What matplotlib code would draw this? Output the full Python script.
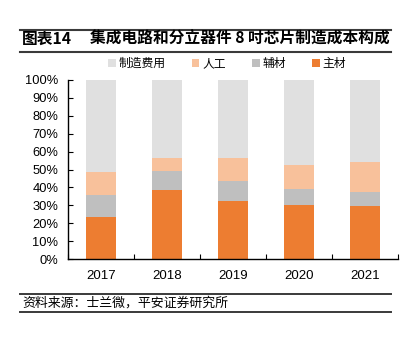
"""Cost structure of 8-inch wafer manufacturing (stacked bars)."""

import numpy as np
import matplotlib
matplotlib.use("Agg")
import matplotlib.pyplot as plt
from matplotlib.lines import Line2D
from matplotlib.patches import Patch

plt.rcParams["font.family"] = ["Liberation Sans", "Noto Sans CJK SC", "DejaVu Sans"]

# data (% of total cost)
years = ["2017", "2018", "2019", "2020", "2021"]
main_material = [23.6, 38.5, 32.4, 30.3, 29.8]   # 主材
aux_material = [12.2, 10.7, 11.3, 8.8, 7.8]      # 辅材
labor = [12.6, 7.4, 12.9, 13.4, 16.4]            # 人工

series_names = ["制造费用", "人工", "辅材", "主材"]
colors = {"制造费用": "#E0E0E0", "人工": "#F8C19B", "辅材": "#BFBFBF", "主材": "#ED7D31"}

main_material = np.array(main_material)
aux_material = np.array(aux_material)
labor = np.array(labor)
overhead = 100 - main_material - aux_material - labor  # 制造费用

W, H = 418, 338
fig = plt.figure(figsize=(W / 100, H / 100), dpi=100)
ax = fig.add_axes([68 / W, 1 - 259 / H, 330 / W, 179 / H])

x = np.arange(len(years))
bw = 0.455
ax.bar(x, main_material, bw, color=colors["主材"], label="主材")
ax.bar(x, aux_material, bw, bottom=main_material, color=colors["辅材"], label="辅材")
ax.bar(x, labor, bw, bottom=main_material + aux_material, color=colors["人工"], label="人工")
ax.bar(x, overhead, bw, bottom=main_material + aux_material + labor,
       color=colors["制造费用"], label="制造费用")

ax.set_xlim(-0.5, len(years) - 0.5)
ax.set_ylim(0, 100)
ax.set_yticks(np.arange(0, 101, 10))
ax.set_yticklabels([f"{v}%" for v in range(0, 101, 10)])
ax.set_xticks(x)
ax.set_xticklabels(years)
ax.set_xticks(np.arange(-0.5, len(years), 1), minor=True)

for s in ["top", "right"]:
    ax.spines[s].set_visible(False)
for s in ["left", "bottom"]:
    ax.spines[s].set_linewidth(1.0)
    ax.spines[s].set_color("black")

ax.tick_params(axis="y", direction="in", length=3.5, width=0.8, pad=7, labelsize=9.3)
ax.tick_params(axis="x", which="major", length=0, pad=8, labelsize=9.5)
ax.tick_params(axis="x", which="minor", direction="in", length=3.5, width=0.8)

# legend
handles = [Patch(facecolor=colors[n], edgecolor="none", label=n) for n in series_names]
fig.legend(handles=handles, loc="center", bbox_to_anchor=(227 / W, 1 - 64 / H), ncol=4,
           frameon=False, fontsize=8.5, handlelength=0.66, handleheight=0.75,
           handletextpad=0.25, columnspacing=2.2, borderaxespad=0)

# title block
for yy in [30, 52]:
    fig.add_artist(Line2D([20 / W, 391 / W], [1 - yy / H, 1 - yy / H], color="#3a3a3a", lw=1.5))
fig.text(22 / W, 1 - 39 / H, "图表14", fontsize=11.3, fontweight="bold",
         family=["Noto Sans CJK SC"], va="center", ha="left")
fig.text(90 / W, 1 - 39 / H, "集成电路和分立器件 8 吋芯片制造成本构成", fontsize=11.3,
         fontweight="bold", family=["Noto Sans CJK SC"], va="center", ha="left")

# source block
for yy in [294, 312]:
    fig.add_artist(Line2D([20 / W, 391 / W], [1 - yy / H, 1 - yy / H], color="#3a3a3a", lw=1.4))
fig.text(22 / W, 1 - 303.5 / H, "资料来源：士兰微，平安证券研究所", fontsize=9.3,
         family=["Noto Sans CJK SC"], style="italic", va="center", ha="left")

fig.savefig("out.png", dpi=100, facecolor="white")
plt.close(fig)
